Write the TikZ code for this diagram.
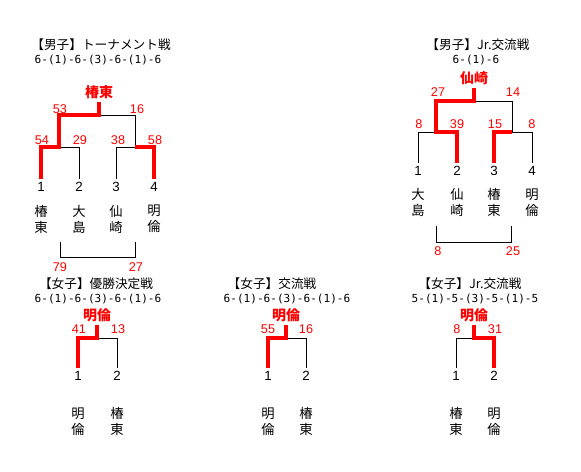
\documentclass[tikz,border=0pt]{standalone}
\usepackage{fontspec}
\setmainfont{Liberation Sans}
\newfontfamily\jp{Noto Sans CJK JP}
\newfontfamily\mono{DejaVu Sans Mono}
\usepackage{xcolor}

\begin{document}
\begin{tikzpicture}[
  x=0.75pt, y=-0.75pt,
  lose/.style={draw=black, line width=0.75pt},
  win/.style={draw=red, line width=2.6pt},
  pts/.style={text=red, font=\fontsize{9.5}{10}\selectfont, inner sep=0pt},
  seed/.style={font=\fontsize{10}{12}\selectfont, inner sep=2pt},
  team/.style={font=\jp\fontsize{10}{12}\selectfont, align=center},
  champ/.style={font=\jp\bfseries\fontsize{10.5}{12}\selectfont, text=red, inner sep=2pt},
  ttl/.style={font=\jp\fontsize{9.5}{11}\selectfont},
  res/.style={font=\mono\fontsize{8.3}{10}\selectfont}
]
  \useasboundingbox (0,0) rectangle (581,471);

  % Men: tournament
  \node[ttl] (mt) at (101,45) {【男子】トーナメント戦};
  \node[res] (ms) at (98,60) {6-(1)-6-(3)-6-(1)-6};
  \node[champ] (mc) at (99,92) {椿東};
  \foreach \n/\x in {1/41,2/79,3/116,4/154}
    \node[seed] (m\n) at (\x,187) {\n};
  \foreach \n/\x/\a/\b in {1/41/椿/東,2/79/大/島,3/116/仙/崎,4/154/明/倫}
    \node[team] (mn\n) at (\x,219) {\a\\\b};
  \coordinate (mL) at (59,115);
  \coordinate (mR) at (135,115);
  \coordinate (mLb) at (59,147);
  \coordinate (mRb) at (135,147);
  \draw[lose] (mL) -- (mR) -- (mRb);
  \draw[lose] (mLb) -| (m2.north);
  \draw[lose] (mRb) -| (m3.north);
  \draw[win] (mc.south) |- (mL) -- (mLb) -| (m1.north);
  \draw[win] (mRb) -| (m4.north);
  \node[pts] (m53) at (60,109) {53};
  \node[pts] (m16) at (137,109) {16};
  \node[pts] (m54) at (42,140) {54};
  \node[pts] (m29) at (80,140) {29};
  \node[pts] (m38) at (118,140) {38};
  \node[pts] (m58) at (155,140) {58};
  % total
  \coordinate (mb1) at (60,242);
  \coordinate (mb2) at (135,242);
  \draw[lose] (mb1) -- ++(0,15) -| (mb2);
  \node[pts] (mtot1) at (60,267) {79};
  \node[pts] (mtot2) at (136,267) {27};

  % Men: Jr.
  \node[ttl] (jt) at (478,45) {【男子】Jr.交流戦};
  \node[res] (js) at (476,60) {6-(1)-6};
  \node[champ] (jc) at (474,78) {仙崎};
  \foreach \n/\x in {1/418,2/457,3/494,4/532}
    \node[seed] (j\n) at (\x,171) {\n};
  \foreach \n/\x/\a/\b in {1/418/大/島,2/457/仙/崎,3/494/椿/東,4/532/明/倫}
    \node[team] (jn\n) at (\x,202.5) {\a\\\b};
  \coordinate (jL) at (436,101);
  \coordinate (jR) at (512,101);
  \coordinate (jLb) at (436,132);
  \coordinate (jRb) at (512,132);
  \draw[lose] (jL) -- (jR) -- (jRb);
  \draw[lose] (jLb) -| (j1.north);
  \draw[lose] (jRb) -| (j4.north);
  \draw[win] (jc.south) |- (jL) -- (jLb) -| (j2.north);
  \draw[win] (jRb) -| (j3.north);
  \node[pts] (j27) at (438,92) {27};
  \node[pts] (j14) at (513,92) {14};
  \node[pts] (j8a) at (419,124) {8};
  \node[pts] (j39) at (457,124) {39};
  \node[pts] (j15) at (495,124) {15};
  \node[pts] (j8b) at (532,124) {8};
  % total
  \coordinate (jb1) at (436,226);
  \coordinate (jb2) at (511,226);
  \draw[lose] (jb1) -- ++(0,16) -| (jb2);
  \node[pts] (jtot1) at (438,251) {8};
  \node[pts] (jtot2) at (513,251) {25};

  % Women: final
  \node[ttl] (wt) at (96,284) {【女子】優勝決定戦};
  \node[res] (ws) at (98,299) {6-(1)-6-(3)-6-(1)-6};
  \node[champ] (wc) at (97,315) {明倫};
  \node[seed] (w1) at (78,376) {1};
  \node[seed] (w2) at (117,376) {2};
  \node[team] (wn1) at (78,421.5) {明\\倫};
  \node[team] (wn2) at (117,421.5) {椿\\東};
  \coordinate (wj) at (97,338);
  \draw[lose] (wj) -| (w2.north);
  \draw[win] (wc.south) -- (wj) -| (w1.north);
  \node[pts] (w41) at (79,329) {41};
  \node[pts] (w13) at (118,329) {13};

  % Women: exchange
  \node[ttl] (kt) at (272,284) {【女子】交流戦};
  \node[res] (ks) at (287,299) {6-(1)-6-(3)-6-(1)-6};
  \node[champ] (kc) at (286,315) {明倫};
  \node[seed] (k1) at (268,376) {1};
  \node[seed] (k2) at (306,376) {2};
  \node[team] (kn1) at (268,421.5) {明\\倫};
  \node[team] (kn2) at (306,421.5) {椿\\東};
  \coordinate (kj) at (286,338);
  \draw[lose] (kj) -| (k2.north);
  \draw[win] (kc.south) -- (kj) -| (k1.north);
  \node[pts] (k55) at (268,329) {55};
  \node[pts] (k16) at (306,329) {16};

  % Women: Jr.
  \node[ttl] (lt) at (470,284) {【女子】Jr.交流戦};
  \node[res] (ls) at (475,299) {5-(1)-5-(3)-5-(1)-5};
  \node[champ] (lc) at (474,315) {明倫};
  \node[seed] (l1) at (456,376) {1};
  \node[seed] (l2) at (494,376) {2};
  \node[team] (ln1) at (456,421.5) {椿\\東};
  \node[team] (ln2) at (494,421.5) {明\\倫};
  \coordinate (lj) at (474,338);
  \draw[lose] (lj) -| (l1.north);
  \draw[win] (lc.south) -- (lj) -| (l2.north);
  \node[pts] (l8) at (457,329) {8};
  \node[pts] (l31) at (495,329) {31};
\end{tikzpicture}
\end{document}
